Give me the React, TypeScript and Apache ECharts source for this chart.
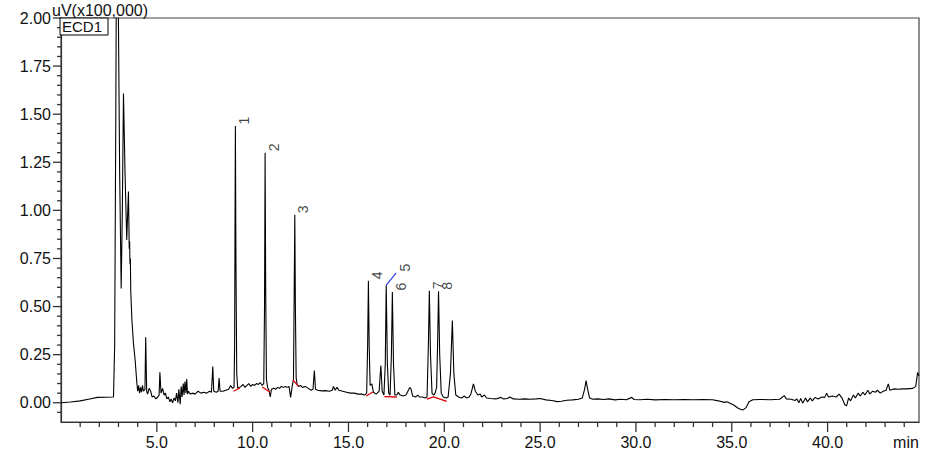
import React, { useEffect, useRef } from "react";
import * as echarts from "echarts";

// Chromatogram trace: [time (min), signal (uV x100,000)]
const trace: [number, number][] = [
  [0.0, 0.0], [0.5, 0.004], [1.0, 0.01], [1.5, 0.02], [1.9, 0.028], [2.3, 0.029], [2.74, 0.03],
  [2.8, 0.3], [2.86, 1.5], [2.9, 2.5], [2.94, 2.6], [2.98, 2.2], [3.06, 1.2], [3.14, 0.594],
  [3.2, 1.0], [3.26, 1.607], [3.34, 1.2], [3.43, 0.846], [3.52, 1.098], [3.56, 0.8], [3.58, 0.84],
  [3.6, 0.72], [3.62, 0.75], [3.64, 0.58], [3.7, 0.43], [3.78, 0.31], [3.87, 0.22], [3.96, 0.1],
  [4.0, 0.06], [4.05, 0.09], [4.1, 0.05], [4.15, 0.08], [4.2, 0.055], [4.25, 0.09], [4.3, 0.06],
  [4.38, 0.07], [4.42, 0.341], [4.47, 0.06], [4.52, 0.045], [4.6, 0.075], [4.68, 0.06], [4.75, 0.03],
  [4.85, 0.035], [4.95, 0.02], [5.05, 0.03], [5.12, 0.04], [5.16, 0.158], [5.22, 0.05], [5.3, 0.075],
  [5.38, 0.04], [5.45, 0.05], [5.52, 0.02], [5.6, 0.03], [5.68, 0.005], [5.75, 0.02], [5.82, 0.0],
  [5.9, 0.025], [5.97, 0.01], [6.03, 0.05], [6.1, 0.0], [6.15, 0.07], [6.22, -0.008], [6.27, 0.085],
  [6.32, 0.03], [6.38, 0.1], [6.42, 0.04], [6.47, 0.11], [6.52, 0.05], [6.56, 0.124], [6.6, 0.045],
  [6.65, 0.06], [6.75, 0.045], [6.85, 0.05], [7.0, 0.045], [7.15, 0.06], [7.3, 0.05], [7.45, 0.055],
  [7.6, 0.05], [7.75, 0.06], [7.85, 0.055], [7.92, 0.188], [7.97, 0.06], [8.1, 0.055], [8.2, 0.06],
  [8.25, 0.129], [8.3, 0.06], [8.45, 0.06], [8.6, 0.065], [8.75, 0.07], [8.85, 0.09], [8.95, 0.075],
  [9.03, 0.08], [9.06, 0.3], [9.08, 0.9], [9.1, 1.438], [9.13, 0.7], [9.17, 0.15], [9.22, 0.075],
  [9.3, 0.08], [9.4, 0.085], [9.5, 0.095], [9.6, 0.08], [9.7, 0.09], [9.8, 0.1], [9.9, 0.085],
  [10.0, 0.095], [10.1, 0.09], [10.2, 0.1], [10.3, 0.095], [10.4, 0.105], [10.5, 0.09], [10.58, 0.1],
  [10.62, 0.5], [10.65, 1.299], [10.68, 0.6], [10.72, 0.12], [10.78, 0.08], [10.85, 0.065],
  [10.92, 0.03], [10.98, 0.07], [11.1, 0.075], [11.2, 0.07], [11.3, 0.08], [11.4, 0.075], [11.5, 0.085],
  [11.6, 0.08], [11.7, 0.085], [11.8, 0.08], [11.9, 0.085], [11.98, 0.028], [12.07, 0.09], [12.13, 0.12],
  [12.17, 0.6], [12.2, 0.977], [12.23, 0.5], [12.27, 0.13], [12.32, 0.095], [12.4, 0.085], [12.5, 0.09],
  [12.6, 0.08], [12.75, 0.085], [12.9, 0.075], [13.05, 0.065], [13.15, 0.07], [13.22, 0.167],
  [13.28, 0.07], [13.4, 0.065], [13.6, 0.062], [13.8, 0.063], [14.0, 0.06], [14.15, 0.065],
  [14.22, 0.085], [14.3, 0.065], [14.4, 0.08], [14.5, 0.065], [14.7, 0.06], [14.9, 0.055], [15.1, 0.05],
  [15.3, 0.05], [15.5, 0.045], [15.7, 0.045], [15.85, 0.04], [15.95, 0.05], [16.0, 0.3], [16.04, 0.634],
  [16.08, 0.3], [16.13, 0.09], [16.22, 0.098], [16.3, 0.055], [16.45, 0.045], [16.6, 0.06],
  [16.69, 0.193], [16.76, 0.06], [16.85, 0.04], [16.92, 0.2], [16.97, 0.611], [17.03, 0.2], [17.1, 0.05],
  [17.17, 0.04], [17.24, 0.25], [17.29, 0.576], [17.35, 0.2], [17.42, 0.04], [17.52, 0.04], [17.6, 0.054],
  [17.7, 0.04], [17.85, 0.035], [18.0, 0.04], [18.1, 0.06], [18.2, 0.08], [18.27, 0.07], [18.35, 0.035],
  [18.5, 0.03], [18.62, 0.04], [18.7, 0.03], [18.85, 0.03], [19.0, 0.025], [19.1, 0.03], [19.17, 0.3],
  [19.22, 0.582], [19.28, 0.25], [19.36, 0.05], [19.45, 0.04], [19.52, 0.05], [19.6, 0.08], [19.65, 0.3],
  [19.7, 0.58], [19.76, 0.25], [19.84, 0.05], [19.95, 0.03], [20.1, 0.025], [20.2, 0.03], [20.32, 0.15],
  [20.42, 0.428], [20.5, 0.15], [20.6, 0.04], [20.75, 0.03], [20.9, 0.025], [21.05, 0.035], [21.15, 0.025],
  [21.3, 0.03], [21.4, 0.05], [21.52, 0.098], [21.62, 0.06], [21.75, 0.04], [21.87, 0.045], [21.95, 0.03],
  [22.1, 0.04], [22.2, 0.025], [22.4, 0.022], [22.7, 0.02], [22.95, 0.028], [23.1, 0.02], [23.3, 0.022],
  [23.43, 0.03], [23.6, 0.02], [23.9, 0.018], [24.2, 0.02], [24.5, 0.018], [24.8, 0.02], [25.0, 0.022],
  [25.3, 0.015], [25.6, 0.012], [25.9, 0.006], [26.1, 0.008], [26.4, 0.013], [26.7, 0.015], [27.0, 0.018],
  [27.2, 0.025], [27.32, 0.07], [27.4, 0.115], [27.48, 0.07], [27.58, 0.025], [27.75, 0.018], [28.0, 0.02],
  [28.3, 0.017], [28.6, 0.02], [28.9, 0.015], [29.2, 0.018], [29.5, 0.016], [29.78, 0.028], [29.9, 0.017],
  [30.2, 0.016], [30.6, 0.018], [31.0, 0.015], [31.5, 0.017], [32.0, 0.016], [32.5, 0.017], [33.0, 0.016],
  [33.5, 0.017], [34.0, 0.016], [34.3, 0.01], [34.6, 0.002], [34.74, 0.005], [34.85, 0.0], [35.1, -0.012],
  [35.35, -0.03], [35.57, -0.038], [35.75, -0.025], [35.9, 0.005], [36.1, 0.016], [36.5, 0.017],
  [37.0, 0.016], [37.5, 0.018], [37.74, 0.037], [37.85, 0.02], [38.1, 0.018], [38.3, 0.012], [38.4, 0.02],
  [38.5, 0.0], [38.6, 0.022], [38.7, -0.002], [38.85, 0.025], [38.95, 0.005], [39.1, 0.025], [39.2, 0.01],
  [39.35, 0.028], [39.5, 0.02], [39.7, 0.03], [39.85, 0.028], [39.95, 0.05], [40.05, 0.03], [40.25, 0.035],
  [40.45, 0.03], [40.6, 0.045], [40.75, 0.025], [40.9, -0.01], [40.99, -0.016], [41.1, 0.025], [41.2, 0.01],
  [41.35, 0.04], [41.45, 0.025], [41.6, 0.05], [41.7, 0.035], [41.85, 0.055], [41.95, 0.04], [42.1, 0.065],
  [42.2, 0.045], [42.35, 0.06], [42.5, 0.055], [42.6, 0.065], [42.75, 0.05], [42.9, 0.06], [43.05, 0.065],
  [43.17, 0.098], [43.25, 0.065], [43.45, 0.072], [43.7, 0.07], [43.9, 0.072], [44.1, 0.072], [44.45, 0.075],
  [44.6, 0.085], [44.7, 0.158], [44.77, 0.14],
];

// Identified peaks
const peakNames = ["1", "2", "3", "4", "5", "6", "7", "8"];
const peakTimes = [9.1, 10.65, 12.2, 16.04, 16.97, 17.29, 19.22, 19.7];
const peakHeights = [1.438, 1.299, 0.977, 0.634, 0.611, 0.576, 0.582, 0.58];

// Leader line for peak 5 label
const leaderLine: [number, number][] = [[16.97, 0.611], [17.49, 0.675]];

// Integration baselines (red)
const baselineSegments: [number, number][][] = [
  [[9.0, 0.06], [9.35, 0.078]],
  [[10.5, 0.082], [10.91, 0.055]],
  [[12.1, 0.118], [12.4, 0.085]],
  [[15.93, 0.035], [16.27, 0.056]],
  [[16.87, 0.032], [17.52, 0.03]],
  [[19.09, 0.019], [19.43, 0.031], [20.13, 0.007]],
];

// Axis ticks and labels
const yTickValues = [0, 0.25, 0.5, 0.75, 1.0, 1.25, 1.5, 1.75, 2.0];
const yMinorTicks = [
  -0.05, 0.05, 0.1, 0.15, 0.2, 0.3, 0.35, 0.4, 0.45, 0.55, 0.6, 0.65, 0.7, 0.8, 0.85, 0.9, 0.95,
  1.05, 1.1, 1.15, 1.2, 1.3, 1.35, 1.4, 1.45, 1.55, 1.6, 1.65, 1.7, 1.8, 1.85, 1.9, 1.95,
];
const xTickValues = [5, 10, 15, 20, 25, 30, 35, 40];
const xMinorTicks = [
  1, 2, 3, 4, 6, 7, 8, 9, 11, 12, 13, 14, 16, 17, 18, 19, 21, 22, 23, 24, 26, 27, 28, 29,
  31, 32, 33, 34, 36, 37, 38, 39, 41, 42, 43, 44,
];
const xMax = 44.77;
const yMin = -0.1;
const yMax = 2.0;

const FONT = "'Liberation Sans', Arial, sans-serif";
const AXIS_COLOR = "#333";
const TICK_COLOR = "#333";
const TEXT_COLOR = "#111";

function tickSeries(values: number[], dir: "x" | "y", len: number) {
  return {
    type: "custom",
    data: values.map((v) => [v]),
    clip: false,
    silent: true,
    z: 5,
    encode: dir === "x" ? { x: 0 } : { y: 0 },
    renderItem: (_params: any, api: any) => {
      const v = api.value(0);
      const p = dir === "x" ? api.coord([v, yMin]) : api.coord([0, v]);
      const shape =
        dir === "x"
          ? { x1: p[0], y1: p[1], x2: p[0], y2: p[1] + len }
          : { x1: p[0], y1: p[1], x2: p[0] - len, y2: p[1] };
      return {
        type: "line",
        shape,
        style: { stroke: TICK_COLOR, lineWidth: 1.3 },
      };
    },
  };
}

export default function App() {
  const ref = useRef<HTMLDivElement>(null);

  useEffect(() => {
    document.body.style.margin = "0";
    if (!ref.current) return;
    const chart = echarts.init(ref.current, undefined, { renderer: "svg" });

    const labelData = peakNames.map((n, i) => {
      if (n === "5") return [leaderLine[1][0], leaderLine[1][1], n];
      return [peakTimes[i], peakHeights[i], n];
    });

    const option: any = {
      animation: false,
      grid: {
        left: 61,
        right: 28,
        top: 18,
        bottom: 40,
        show: true,
        borderColor: "#444",
        borderWidth: 1.2,
      },
      xAxis: {
        type: "value",
        position: "bottom",
        min: 0,
        max: xMax,
        axisLine: { show: true, onZero: false, lineStyle: { color: AXIS_COLOR, width: 1.2 } },
        axisTick: { show: false },
        axisLabel: {
          show: true,
          customValues: xTickValues,
          formatter: (v: number) => v.toFixed(1),
          fontSize: 16,
          fontFamily: FONT,
          color: TEXT_COLOR,
          margin: 12,
        },
        splitLine: { show: false },
      },
      yAxis: {
        type: "value",
        position: "left",
        min: yMin,
        max: yMax,
        axisLine: { show: true, onZero: false, lineStyle: { color: AXIS_COLOR, width: 1.2 } },
        axisTick: { show: false },
        axisLabel: {
          show: true,
          customValues: yTickValues,
          formatter: (v: number) => v.toFixed(2),
          fontSize: 16,
          fontFamily: FONT,
          color: TEXT_COLOR,
          margin: 10,
        },
        splitLine: { show: false },
      },
      series: [
        {
          type: "line",
          data: trace,
          symbol: "none",
          showSymbol: false,
          clip: true,
          lineStyle: { color: "#000", width: 1.1 },
          z: 2,
        },
        ...baselineSegments.map((seg) => ({
          type: "line",
          data: seg,
          symbol: "none",
          showSymbol: false,
          lineStyle: { color: "#e00000", width: 1.3 },
          z: 3,
        })),
        {
          type: "line",
          data: leaderLine,
          symbol: "none",
          showSymbol: false,
          lineStyle: { color: "#2030e0", width: 1.1 },
          z: 3,
        },
        {
          type: "scatter",
          data: labelData,
          symbolSize: 1,
          itemStyle: { color: "rgba(0,0,0,0)" },
          z: 4,
          label: {
            show: true,
            formatter: (p: any) => p.value[2],
            position: [9, -1],
            rotate: 90,
            align: "left",
            verticalAlign: "middle",
            fontSize: 14,
            fontFamily: FONT,
            color: TEXT_COLOR,
          },
        },
        tickSeries(xMinorTicks, "x", 5),
        tickSeries(xTickValues, "x", 10),
        tickSeries(yMinorTicks, "y", 4),
        tickSeries(yTickValues, "y", 8),
      ],
      graphic: [
        {
          type: "text",
          left: 52,
          top: 2,
          style: { text: "uV(x100,000)", fontSize: 16, fontFamily: FONT, fill: TEXT_COLOR },
        },
        {
          type: "rect",
          shape: { x: 60, y: 18, width: 48, height: 17 },
          style: { fill: "#fff", stroke: "#000", lineWidth: 1 },
          z: 10,
        },
        {
          type: "text",
          x: 62,
          y: 19,
          style: { text: "ECD1", fontSize: 15, fontFamily: FONT, fill: TEXT_COLOR },
          z: 11,
        },
        {
          type: "text",
          x: 906,
          y: 434,
          style: { text: "min", fontSize: 16, fontFamily: FONT, fill: TEXT_COLOR, align: "center" },
        },
      ],
    };

    chart.setOption(option);
    return () => {
      chart.dispose();
    };
  }, []);

  return (
    <div
      ref={ref}
      style={{ width: 947, height: 462, position: "absolute", left: 0, top: 0 }}
    />
  );
}
